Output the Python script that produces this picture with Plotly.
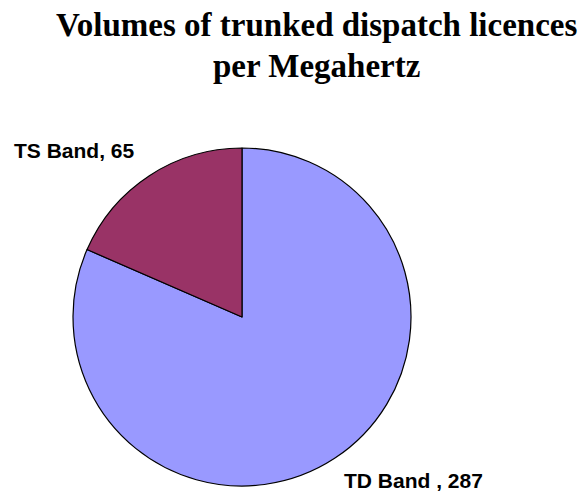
import plotly.graph_objects as go

# Data
labels = ["TD Band", "TS Band"]
values = [287, 65]
label_texts = ["TD Band , 287", "TS Band, 65"]
colors = ["#9999FF", "#993366"]
title_lines = ["Volumes of trunked dispatch licences", "per Megahertz"]

W, H = 583, 492

fig = go.Figure(
    go.Pie(
        labels=labels,
        values=values,
        sort=False,
        direction="clockwise",
        rotation=0,
        marker=dict(colors=colors, line=dict(color="#000000", width=1.2)),
        textinfo="none",
        hoverinfo="label+value",
        showlegend=False,
        domain=dict(x=[(242 - 169) / W, (242 + 169) / W],
                    y=[(H - 486) / H, (H - 148) / H]),
    )
)

# Data labels
label_pos = [(342, 480), (12, 150)]  # pixel positions (left, middle)
for txt, (px, py) in zip(label_texts, label_pos):
    fig.add_annotation(
        text="<b>" + txt + "</b>", x=px / W, y=1 - py / H, xref="paper", yref="paper",
        xanchor="left", yanchor="middle", showarrow=False,
        font=dict(family="Liberation Sans", size=21, color="#000000"),
    )

# Title lines
title_pos = [25, 66]
for txt, py in zip(title_lines, title_pos):
    fig.add_annotation(
        text="<b>" + txt + "</b>", x=316 / W, y=1 - py / H, xref="paper", yref="paper",
        xanchor="center", yanchor="middle", showarrow=False,
        font=dict(family="Liberation Serif", size=33, color="#000000"),
    )

fig.update_layout(
    width=W, height=H,
    margin=dict(l=0, r=0, t=0, b=0),
    paper_bgcolor="white", plot_bgcolor="white",
)

fig.write_html("out.html")
